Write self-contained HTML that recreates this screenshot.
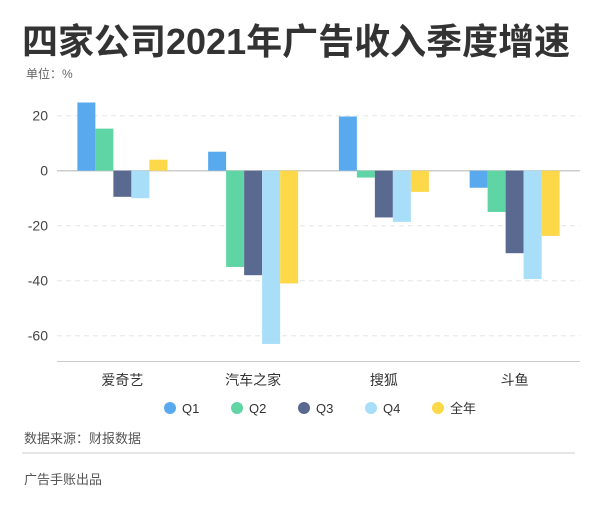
<!DOCTYPE html>
<html><head><meta charset="utf-8">
<style>
body{margin:0;background:#fff;width:600px;height:510px;overflow:hidden;font-family:"Liberation Sans","Noto Sans CJK SC",sans-serif;}
</style></head>
<body>
<svg width="600" height="510" xmlns="http://www.w3.org/2000/svg" font-family="Liberation Sans, Noto Sans CJK SC, sans-serif">
<text x="22" y="54" font-size="36" font-weight="bold" fill="#333">四家公司2021年广告收入季度增速</text>
<text x="26" y="78" font-size="12" fill="#666">单位：%</text>
<g id="grid"></g>
<g id="bars"></g>
<g id="legend"></g>
<text x="24" y="443" font-size="13" fill="#555">数据来源：财报数据</text>
<line x1="22" y1="453" x2="575" y2="453" stroke="#ccc" stroke-width="1"/>
<text x="24" y="484" font-size="13" fill="#555">广告手账出品</text>
</svg>
<script>
const categories=["爱奇艺","汽车之家","搜狐","斗鱼"];
const seriesNames=["Q1","Q2","Q3","Q4","全年"];
const q1=[24.8,6.9,19.7,-6.2];
const q2=[15.3,-35,-2.5,-15];
const q3=[-9.5,-38,-17,-30];
const q4=[-10,-63,-18.6,-39.4];
const full=[4,-41,-7.7,-23.7];
const yTicks=[20,0,-20,-40,-60];
const colors=["#58a9ee","#5fd4a5","#5a6990","#a9def8","#fdd849"];
const series=[q1,q2,q3,q4,full];
const NS="http://www.w3.org/2000/svg";
const x0=57,x1=580,y0px=170.7,pxPerUnit=55/20;
const y=v=>y0px-v*pxPerUnit;
const bandW=(x1-x0)/categories.length;
const barW=18;
function mk(tag,attrs,parent){const e=document.createElementNS(NS,tag);for(const k in attrs)e.setAttribute(k,attrs[k]);parent.appendChild(e);return e;}
const grid=document.getElementById('grid'),bars=document.getElementById('bars'),legend=document.getElementById('legend');
yTicks.forEach(t=>{
  const l=mk('line',{x1:x0,x2:x1,y1:y(t),y2:y(t),stroke:t===0?'#ccc':'#e6e6e6','stroke-width':t===0?1.5:1,'stroke-dasharray':t===0?'':'5,4'},grid);
  
  
  const tx=mk('text',{x:48,y:y(t)+5,'text-anchor':'end','font-size':14,fill:'#444'},grid);
  tx.textContent=t;
  
  
});
const ax=mk('line',{x1:x0,x2:x1,y1:361.5,y2:361.5,stroke:'#ccc','stroke-width':1},grid);


categories.forEach((c,i)=>{
  const cx=x0+bandW*(i+0.5);
  series.forEach((s,j)=>{
    const v=s[i];
    const bx=cx-barW*2.5+barW*j;
    const r=mk('rect',{x:bx,y:Math.min(y(v),y(0)),width:barW,height:Math.abs(y(v)-y(0)),fill:colors[j]},bars);
    
    
  });
  const t=mk('text',{x:cx,y:385,'text-anchor':'middle','font-size':14,fill:'#333'},bars);
  t.textContent=c;
  
  
});
const lx=[170,237,304,371,438];
seriesNames.forEach((n,j)=>{
  const g=mk('g',{},legend);
  
  
  mk('circle',{cx:lx[j],cy:408,r:6,fill:colors[j]},g);
  const t=mk('text',{x:lx[j]+12,y:413,'font-size':13,fill:'#333'},g);
  t.textContent=n;
});
</script>
</body></html>
